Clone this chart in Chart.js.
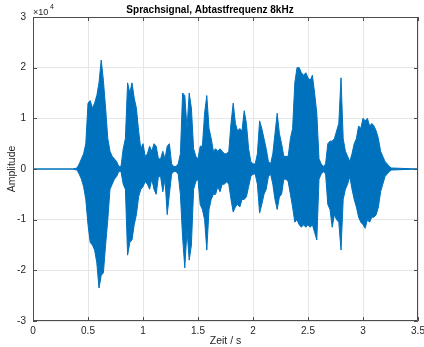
<!DOCTYPE html>
<html>
<head>
<meta charset="utf-8">
<script src="https://cdn.jsdelivr.net/npm/chart.js@4.4.1/dist/chart.umd.min.js"></script>
<style>
  html, body { margin: 0; padding: 0; background: #fff; }
  #wrap { width: 424px; height: 347px; }
</style>
</head>
<body>
<div id="wrap"><canvas id="chartSignal" width="424" height="347"></canvas></div>
<script>
// Hüllkurve des Sprachsignals (Einheit 1e4), Raster 0.02 s ab 0.40 s
const zeitStart = 0.40;
const zeitSchritt = 0.02;
const zeitEnde = 3.5;

const oben = [
  0.02, 0.1, 0.2, 0.3, 0.5, 1.3, 1.35, 1.2, 1.3, 1.45,
  1.7, 2.15, 1.75, 1.2, 0.6, 0.35, 0.25, 0.2, 0.15, 0.05,
  0.05, 0.4, 0.6, 1.7, 1.5, 1.7, 1.4, 1.2, 0.75, 0.4,
  0.5, 0.25, 0.3, 0.45, 0.35, 0.5, 0.45, 0.2, 0.2, 0.35,
  0.2, 0.45, 0.5, 0.1, 0.05, 0.05, 0.1, 0.3, 1.5, 1.45,
  0.8, 1.5, 1.2, 0.4, 0.25, 0.2, 0.45, 0.45, 1.1, 1.45,
  0.8, 0.6, 0.35, 0.4, 0.35, 0.4, 0.35, 0.3, 0.3, 0.35,
  0.9, 1.3, 0.9, 0.75, 0.8, 0.75, 1.15, 0.9, 0.4, 0.15,
  0.1, 0.1, 0.3, 0.95, 0.8, 0.6, 0.4, 0.15, 0.1, 0.3,
  0.7, 1.1, 0.7, 0.5, 0.25, 0.25, 0.25, 0.6, 0.8, 1.7,
  2.0, 2.0, 1.9, 1.85, 1.9, 1.8, 1.75, 1.85, 1.5, 1.1,
  0.2, 0.1, 0.05, 0.1, 0.5, 0.55, 0.55, 0.6, 0.75, 0.9,
  1.8, 0.6, 0.35, 0.25, 0.15, 0.3, 0.5, 0.6, 0.85, 0.8,
  1.0, 0.95, 1.0, 0.85, 0.9, 0.85, 0.75, 0.6, 0.35, 0.25,
  0.15, 0.1, 0.05, 0.02
];

const unten = [
  -0.02, -0.1, -0.2, -0.35, -0.6, -1.1, -1.45, -1.5, -1.6, -1.85,
  -2.35, -2.1, -2.05, -1.5, -1.0, -0.4, -0.3, -0.2, -0.15, -0.05,
  -0.05, -0.3, -0.4, -1.7, -1.45, -1.4, -1.1, -0.9, -0.55, -0.4,
  -0.35, -0.25, -0.3, -0.4, -0.2, -0.4, -0.5, -0.15, -0.15, -0.45,
  -0.2, -0.9, -0.5, -0.1, -0.05, -0.05, -0.1, -0.5, -1.35, -1.95,
  -1.2, -1.8, -1.5, -0.4, -0.25, -0.2, -0.7, -0.8, -1.0, -1.6,
  -0.8, -0.6, -0.5, -0.5, -0.35, -0.45, -0.3, -0.3, -0.25, -0.3,
  -0.6, -0.85, -0.75, -0.7, -0.75, -0.6, -0.6, -0.55, -0.35, -0.15,
  -0.1, -0.1, -0.3, -0.87, -0.7, -0.5, -0.4, -0.15, -0.1, -0.3,
  -0.6, -0.8, -0.55, -0.5, -0.2, -0.2, -0.25, -0.5, -0.75, -1.05,
  -1.0, -1.1, -1.15, -1.1, -1.15, -1.1, -1.15, -1.1, -1.25, -1.4,
  -0.2, -0.1, -0.05, -0.1, -0.7, -0.8, -1.15, -0.9, -1.0, -1.05,
  -1.6, -0.6, -0.4, -0.3, -0.15, -0.4, -0.6, -0.75, -0.95, -1.05,
  -1.1, -1.17, -1.0, -1.05, -0.95, -0.95, -0.9, -0.75, -0.45, -0.3,
  -0.15, -0.1, -0.05, -0.02
];

const xTicks = [0, 0.5, 1, 1.5, 2, 2.5, 3, 3.5];
const yTicks = [-3, -2, -1, 0, 1, 2, 3];

const BLAU = '#0072BD';
const ACHSE = '#4d4d4d';
const FONT = '"Liberation Sans", Arial, Helvetica, sans-serif';

function toPoints(werte) {
  const pts = [{ x: 0, y: 0 }, { x: 0.36, y: 0 }];
  werte.forEach((v, i) => {
    pts.push({ x: +(zeitStart + i * zeitSchritt).toFixed(2), y: v });
  });
  pts.push({ x: zeitEnde, y: 0 });
  return pts;
}

// Rahmen, Ticks nach innen, Titel und Exponent (MATLAB-Stil)
const matlabAxes = {
  id: 'matlabAxes',
  afterDraw(chart) {
    const { ctx, chartArea: a, scales } = chart;
    ctx.save();
    ctx.strokeStyle = ACHSE;
    ctx.lineWidth = 1;
    ctx.beginPath();
    ctx.rect(a.left + 0.5, a.top + 0.5, a.right - a.left - 1, a.bottom - a.top - 1);
    ctx.stroke();

    ctx.beginPath();
    xTicks.forEach((v) => {
      const px = Math.round(scales.x.getPixelForValue(v)) + 0.5;
      ctx.moveTo(px, a.bottom);
      ctx.lineTo(px, a.bottom - 4);
      ctx.moveTo(px, a.top);
      ctx.lineTo(px, a.top + 4);
    });
    yTicks.forEach((v) => {
      const py = Math.round(scales.y.getPixelForValue(v)) + 0.5;
      ctx.moveTo(a.left, py);
      ctx.lineTo(a.left + 4, py);
      ctx.moveTo(a.right, py);
      ctx.lineTo(a.right - 4, py);
    });
    ctx.stroke();

    ctx.fillStyle = '#000';
    ctx.font = 'bold 10px ' + FONT;
    ctx.textAlign = 'center';
    ctx.textBaseline = 'middle';
    ctx.fillText('Sprachsignal, Abtastfrequenz 8kHz', 210, 10);

    ctx.fillStyle = '#262626';
    ctx.textAlign = 'left';
    ctx.textBaseline = 'alphabetic';
    ctx.font = '9px ' + FONT;
    ctx.fillText('\u00d710', a.left, 15);
    ctx.font = '7px ' + FONT;
    ctx.fillText('4', a.left + 17, 9);
    ctx.restore();
  },
};

new Chart(document.getElementById('chartSignal'), {
  type: 'line',
  data: {
    datasets: [
      {
        data: toPoints(oben),
        borderColor: BLAU,
        backgroundColor: BLAU,
        borderWidth: 1,
        pointRadius: 0,
        tension: 0,
        fill: '+1',
      },
      {
        data: toPoints(unten),
        borderColor: BLAU,
        backgroundColor: BLAU,
        borderWidth: 1,
        pointRadius: 0,
        tension: 0,
        fill: false,
      },
    ],
  },
  options: {
    responsive: false,
    animation: false,
    parsing: false,
    layout: { padding: { top: 17, right: 6, left: 0, bottom: 0 } },
    plugins: {
      legend: { display: false },
      tooltip: { enabled: false },
    },
    scales: {
      x: {
        type: 'linear',
        min: 0,
        max: zeitEnde,
        afterBuildTicks: (s) => { s.ticks = xTicks.map((v) => ({ value: v })); },
        afterFit: (s) => { s.height = 26; s.paddingLeft = 0; s.paddingRight = 0; },
        ticks: {
          autoSkip: false,
          maxRotation: 0,
          padding: 4,
          color: '#262626',
          font: { family: FONT, size: 10 },
          callback: (v) => String(v),
        },
        grid: { color: '#e6e6e6', drawTicks: false },
        border: { display: false },
        title: {
          display: true,
          text: 'Zeit / s',
          color: '#262626',
          font: { family: FONT, size: 10.5 },
          padding: { top: 0, bottom: 0 },
        },
      },
      y: {
        min: -3,
        max: 3,
        afterBuildTicks: (s) => { s.ticks = yTicks.map((v) => ({ value: v })); },
        afterFit: (s) => { s.width = 33; },
        ticks: {
          padding: 7,
          color: '#262626',
          font: { family: FONT, size: 10 },
          callback: (v) => String(v),
        },
        grid: { color: '#e6e6e6', drawTicks: false },
        border: { display: false },
        title: {
          display: true,
          text: 'Amplitude',
          color: '#262626',
          font: { family: FONT, size: 10.5 },
          padding: { top: 6, bottom: 0 },
        },
      },
    },
  },
  plugins: [matlabAxes],
});
</script>
</body>
</html>
